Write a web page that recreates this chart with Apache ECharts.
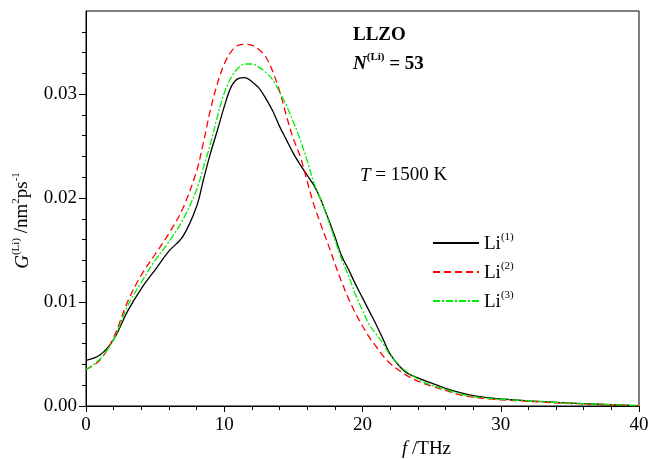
<!DOCTYPE html>
<html>
<head>
<meta charset="utf-8">
<script src="https://cdn.jsdelivr.net/npm/echarts@6/dist/echarts.min.js"></script>
<style>html,body{margin:0;padding:0;background:#fff}#c{width:651px;height:459px}</style>
</head>
<body>
<div id="c"></div>
<script>
var freq = [0,1,2,3,4,5,6,7,8,8.5,9,9.5,10,10.5,11,11.5,12,12.5,13,13.5,14,14.5,15,15.5,16,16.5,17,17.5,18,18.5,19,19.5,20,20.5,21,21.5,22,23,24,25,26,27,28,29,30,32,34,36,38,40];
var li1 = [.0044,.0049,.0064,.0091,.0113,.0131,.0149,.0163,.0192,
  .0218,.0243,.0265,.0288,.0307,.0315,.0316,.0312,.0306,.0296,.0284,.0269,.0256,.0243,.0232,.0222,.0212,.0198,.0181,.0163,.0144,.0131,.0117,.0104,.0091,.0078,.0064,.0050,
  .0034,.0027,.0022,.0017,.0013,.0010,.0008,.00068,.0005,.00035,.00022,.00012,.00003];
var li2 = [.0035,.0044,.0066,.0100,.0126,.0146,.0166,.0190,.0226,
  .0254,.0285,.0310,.0329,.0341,.0347,.0348,.0347,.0343,.0336,.0322,.0303,.0279,.0257,.0240,.0216,.0193,.0174,.0156,.0137,.0119,.0103,.0089,.0077,.0066,.0057,.0048,.0041,
  .0031,.0024,.0019,.0015,.0011,.00085,.0007,.0006,.00045,.0003,.0002,.0001,.00002];
var li3 = [.0035,.0045,.0064,.0096,.0119,.0140,.0158,.0179,.0208,
  .0230,.0252,.0278,.0301,.0316,.0325,.0329,.0329,.0326,.0321,.0314,.0302,.0289,.0273,.0256,.0236,.0214,.0198,.0180,.0160,.0141,.0125,.0107,.0092,.0078,.0069,.0060,.0049,
  .0035,.0026,.0020,.0016,.0012,.0009,.00075,.00065,.0005,.00035,.00022,.00012,.00003];
var seriesNames = ['Li(1)','Li(2)','Li(3)'];
var yMajorTicks = [0,0.01,0.02,0.03];
var yMinorTicks = [0.002,0.004,0.006,0.008,0.012,0.014,0.016,0.018,0.022,0.024,0.026,0.028,0.032,0.034,0.036];

var FF = 'Liberation Serif, Times New Roman, serif';
function pairs(arr){ return freq.map(function(f,i){ return [f, arr[i]]; }); }

var chart = echarts.init(document.getElementById('c'), null, {renderer:'canvas'});
chart.setOption({
  animation:false,
  backgroundColor:'#fff',
  grid:{left:86, right:12, top:11, bottom:53, show:true, borderColor:'#000', borderWidth:1,
        containLabel:false, outerBoundsMode:'none'},
  legend:{
    left:427, top:227, padding:5, orient:'vertical', itemWidth:46, itemHeight:14, itemGap:7,
    data:seriesNames,
    itemStyle:{color:'rgba(0,0,0,0)', borderColor:'rgba(0,0,0,0)', borderWidth:0, opacity:0},
    textStyle:{fontFamily:FF, color:'#000', fontSize:19, lineHeight:22,
      rich:{b:{fontFamily:FF, fontSize:19, color:'#000', lineHeight:22, verticalAlign:'bottom'},
            s:{fontFamily:FF, fontSize:11, color:'#000', lineHeight:22, verticalAlign:'top'}}},
    formatter:function(name){ return name.replace(/^Li(\(\d\))$/, '{b|Li}{s|$1}'); }
  },
  xAxis:{
    type:'value', min:0, max:40, interval:10,
    axisLine:{show:true, onZero:false, lineStyle:{color:'#000', width:1}},
    splitLine:{show:false},
    axisTick:{show:true, inside:false, length:6, lineStyle:{color:'#000'}},
    minorTick:{show:true, splitNumber:5, length:4, lineStyle:{color:'#000'}},
    axisLabel:{fontFamily:FF, fontSize:19, color:'#000', margin:10},
    name:'{i|f} /THz', nameLocation:'middle', nameGap:33,
    nameTextStyle:{fontFamily:FF, fontSize:19, color:'#000', padding:[0,0,0,128],
      rich:{i:{fontFamily:FF, fontSize:19, fontStyle:'italic', color:'#000'}}}
  },
  yAxis:[{
    type:'value', min:0, max:0.038,
    axisLine:{show:true, onZero:false, lineStyle:{color:'#000', width:1}},
    splitLine:{show:false},
    axisTick:{show:true, inside:false, length:7, customValues:yMajorTicks, lineStyle:{color:'#000'}},
    axisLabel:{fontFamily:FF, fontSize:19, color:'#000', margin:9, customValues:yMajorTicks,
      formatter:function(v){ return v.toFixed(2); }},
    name:'{i|G}{s|(Li)} /nm{s|2}ps{s|-1}', nameLocation:'middle', nameGap:48, nameRotate:90,
    nameTextStyle:{fontFamily:FF, fontSize:19, color:'#000', lineHeight:22, padding:[0,24,0,0],
      rich:{i:{fontFamily:FF, fontSize:19, fontStyle:'italic', color:'#000', lineHeight:22, verticalAlign:'bottom'},
            s:{fontFamily:FF, fontSize:11, color:'#000', lineHeight:22, verticalAlign:'top'}}}
  },{
    type:'value', min:0, max:0.038, position:'left',
    axisLine:{show:false},
    splitLine:{show:false},
    axisTick:{show:true, inside:false, length:4, customValues:yMinorTicks, lineStyle:{color:'#000'}},
    axisLabel:{show:false}
  }],
  graphic:[
    {type:'text', left:353, top:26, style:{text:'LLZO', font:'bold 19px Liberation Serif', fill:'#000'}},
    {type:'text', left:353, top:52, style:{text:'{n|N}{s|(Li)}{b| = 53}', fill:'#000',
      rich:{n:{fontFamily:FF, fontWeight:'bold', fontStyle:'italic', fontSize:19, lineHeight:22, verticalAlign:'bottom'},
            s:{fontFamily:FF, fontWeight:'bold', fontSize:11, lineHeight:22, verticalAlign:'top'},
            b:{fontFamily:FF, fontWeight:'bold', fontSize:19, lineHeight:22, verticalAlign:'bottom'}}}},
    {type:'text', left:360, top:166, style:{text:'{i|T} = 1500 K', fill:'#000',
      rich:{i:{fontFamily:FF, fontStyle:'italic', fontSize:19}}, font:'19px Liberation Serif'}}
  ],
  series:[
    {name:seriesNames[0], type:'line', data:pairs(li1), showSymbol:false, symbol:'none', smooth:0.35,
     lineStyle:{color:'#000', width:1.3, type:'solid'}, itemStyle:{color:'#000'}},
    {name:seriesNames[1], type:'line', data:pairs(li2), showSymbol:false, symbol:'none', smooth:0.35,
     lineStyle:{color:'#ff0000', width:1.3, type:[7,4]}, itemStyle:{color:'#ff0000'}},
    {name:seriesNames[2], type:'line', data:pairs(li3), showSymbol:false, symbol:'none', smooth:0.35,
     lineStyle:{color:'#00ee00', width:1.3, type:[7,2,2,2]}, itemStyle:{color:'#00ee00'}}
  ]
});
</script>
</body>
</html>
